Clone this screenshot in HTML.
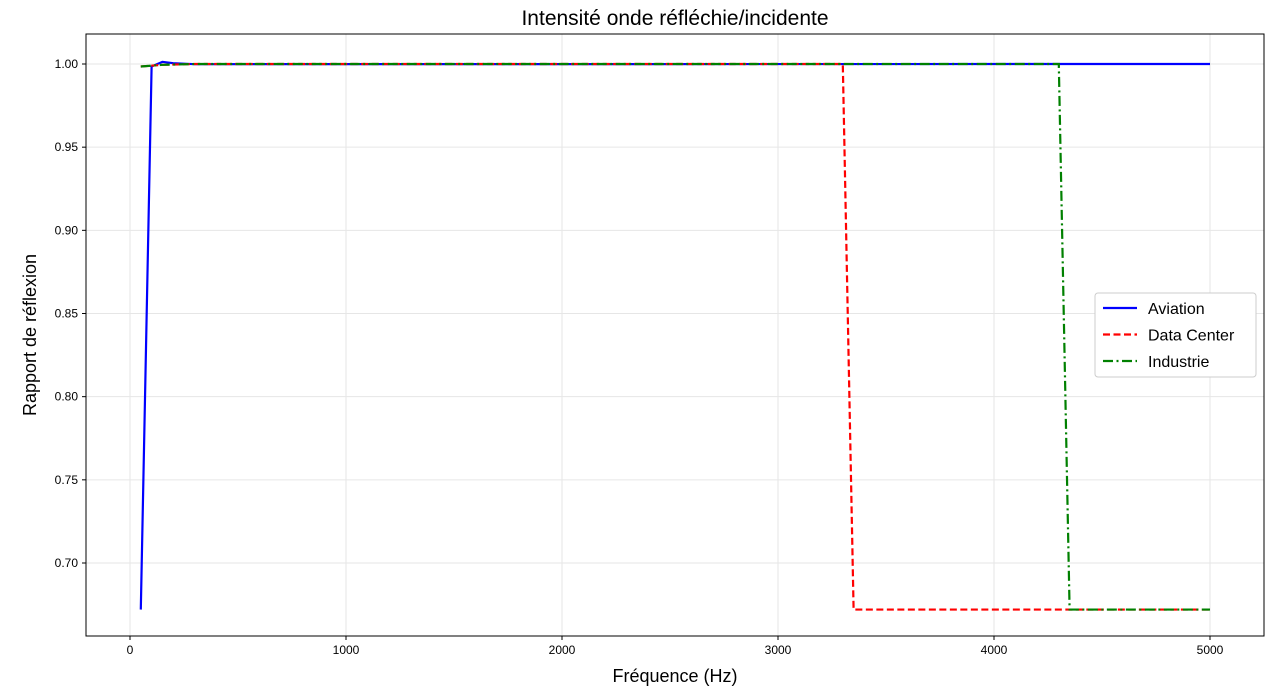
<!DOCTYPE html>
<html><head><meta charset="utf-8"><style>
body{margin:0;background:#fff;font-family:"Liberation Sans","DejaVu Sans",sans-serif}
</style></head><body>
<svg id="c" width="1280" height="692" xmlns="http://www.w3.org/2000/svg"></svg>
<script>
const xTicks=[0,1000,2000,3000,4000,5000];
const yTicks=[0.70,0.75,0.80,0.85,0.90,0.95,1.00];
const seriesNames=["Aviation","Data Center","Industrie"];
const aviationX=[50,100,150,200,300,5000];
const aviationY=[0.672,0.9985,1.0013,1.0005,0.9999,1.0];
const dataCenterX=[50,150,300,3300,3350,5000];
const dataCenterY=[0.9985,0.9995,1.0,1.0,0.672,0.672];
const industrieX=[50,150,300,4300,4350,5000];
const industrieY=[0.9985,0.9995,1.0,1.0,0.672,0.672];
const L=86,R=1264,T=34,B=636;
const sx=v=>130+(v-0)*(1210-130)/5000;
const sy=v=>64+(1.0-v)*(563-64)/0.30;
const svg=document.getElementById('c');const NS="http://www.w3.org/2000/svg";
function mk(t,a,txt){const e=document.createElementNS(NS,t);for(const k in a)e.setAttribute(k,a[k]);if(txt!=null)e.textContent=txt;svg.appendChild(e);return e;}
xTicks.forEach(v=>{const x=sx(v);
const g=mk('line',{x1:x,x2:x,y1:T,y2:B,stroke:'#e6e6e6','stroke-width':1});


mk('line',{x1:x,x2:x,y1:B,y2:B+4,stroke:'#000'});
const t=mk('text',{x:x,y:B+18,'font-size':12,'text-anchor':'middle'},v);

});
yTicks.forEach(v=>{const y=sy(v);
const g=mk('line',{x1:L,x2:R,y1:y,y2:y,stroke:'#e6e6e6','stroke-width':1});


mk('line',{x1:L-4,x2:L,y1:y,y2:y,stroke:'#000'});
const t=mk('text',{x:L-8,y:y+4,'font-size':12,'text-anchor':'end'},v.toFixed(2));

});
const styles=[{c:'#0000ff',d:''},{c:'#ff0000',d:'7,3.5'},{c:'#008000',d:'10,3.5,2,3.5'}];
[[aviationX,aviationY],[dataCenterX,dataCenterY],[industrieX,industrieY]].forEach((s,i)=>{
const pts=s[0].map((x,j)=>sx(x)+','+sy(s[1][j])).join(' ');
const p=mk('polyline',{points:pts,fill:'none',stroke:styles[i].c,'stroke-width':2.2,'stroke-dasharray':styles[i].d});

});
const fr=mk('rect',{x:L,y:T,width:R-L,height:B-T,fill:'none',stroke:'#000','stroke-width':1});


const ti=mk('text',{x:675,y:25,'font-size':21,'text-anchor':'middle'},'Intensité onde réfléchie/incidente');


const xl=mk('text',{x:675,y:682,'font-size':18,'text-anchor':'middle'},'Fréquence (Hz)');


const yl=mk('text',{x:36,y:335,'font-size':18,'text-anchor':'middle',transform:'rotate(-90 36 335)'},'Rapport de réflexion');


const lg=mk('rect',{x:1095,y:293,width:161,height:84,fill:'#fff',stroke:'#ccc',rx:3});


seriesNames.forEach((n,i)=>{const y=308+i*26.5;
const l=mk('line',{x1:1103,x2:1137,y1:y,y2:y,stroke:styles[i].c,'stroke-width':2.2,'stroke-dasharray':styles[i].d});


const t=mk('text',{x:1148,y:y+6,'font-size':16},n);

});
</script>
</body></html>
